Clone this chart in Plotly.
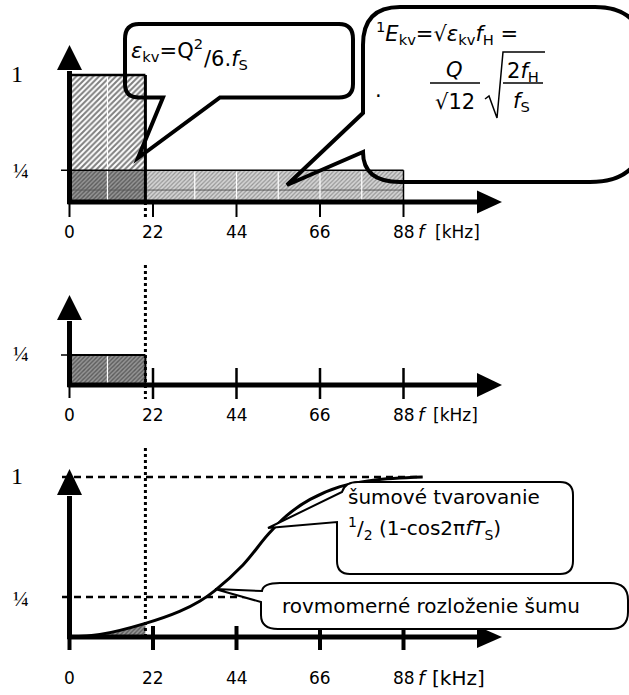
import plotly.graph_objects as go

W, H = 629, 695

# ---------------- data ----------------
freq_ticks = [0, 22, 44, 66, 88]                 # kHz
freq_tick_labels = ["0", "22", "44", "66", "88"]
audio_band_edge = 20                             # kHz – end of the audio band
uniform_band_end = 88                            # kHz – extent of uniform noise
level_full = 1.0
level_quarter = 0.25
fill_gridlines = [10, 33, 44, 55, 66, 77]        # faint white lines inside the hatched fills
fill_midline = 0.094                             # faint grey line inside the band
shaped_f = [0, 8, 20, 29, 34.4, 38.3, 45.7, 52.3, 57.3, 63.4, 71.3, 80, 93]
shaped_v = [0, 0.015, 0.085, 0.16, 0.225, 0.29, 0.45, 0.64, 0.76, 0.86, 0.94, 0.98, 1.0]

# ---------------- geometry helpers ----------------
X0, KX = 69.5, 334 / 88                          # pixel of f=0, pixels per kHz
PANEL = {1: (202, 127), 2: (385, 120), 3: (637, 160)}   # zero-line pixel, pixels per unit


def fx(px):
    return (px - X0) / KX


def vy(p, py):
    z, s = PANEL[p]
    return (z - py) / s


def refs(p):
    return ('x', 'y') if p == 1 else (f'x{p}', f'y{p}')


def P(x, y):
    return f"{x / W:.5f},{1 - y / H:.5f}"


shapes = []
annotations = []
traces = []


def seg(p, x0, y0, x1, y1, w, color='black', dash='solid'):
    xr, yr = refs(p)
    shapes.append(dict(type='line', xref=xr, yref=yr, x0=x0, y0=y0, x1=x1, y1=y1,
                       line=dict(color=color, width=w, dash=dash), layer='above'))


def tri(p, pts):
    xr, yr = refs(p)
    path = 'M ' + ' L '.join(f'{a},{b}' for a, b in pts) + ' Z'
    shapes.append(dict(type='path', xref=xr, yref=yr, path=path, fillcolor='black',
                       line=dict(width=0), layer='above'))


def ppath(cmds, width, fill=None, color='black'):
    out = []
    for c in cmds:
        op, nums = c[0], c[1:]
        pts = [P(nums[i], nums[i + 1]) for i in range(0, len(nums), 2)]
        out.append(op + ' ' + ' '.join(pts))
    path = ' '.join(out)
    d = dict(type='path', xref='paper', yref='paper', path=path,
             line=dict(color=color, width=width), layer='above')
    d['fillcolor'] = fill if fill else 'rgba(0,0,0,0)'
    shapes.append(d)


def pline(x0, y0, x1, y1, w):
    shapes.append(dict(type='line', xref='paper', yref='paper', x0=x0 / W, y0=1 - y0 / H,
                       x1=x1 / W, y1=1 - y1 / H, line=dict(color='black', width=w), layer='above'))


def txt(x, y, s, size, family='DejaVu Sans', xanchor='center', yanchor='middle', style='normal'):
    annotations.append(dict(x=x / W, y=1 - y / H, xref='paper', yref='paper', text=s,
                            showarrow=False,
                            font=dict(family=family, size=size, color='black', style=style),
                            xanchor=xanchor, yanchor=yanchor))


def tick_label(f, py, s, size=17):
    annotations.append(dict(x=f, xref='x', y=1 - py / H, yref='paper', text=s, showarrow=False,
                            font=dict(family='DejaVu Sans', size=size, color='black'),
                            xanchor='center', yanchor='middle'))


LIGHT = dict(shape='/', bgcolor='#d4d4d4', fgcolor='#555555', size=3, solidity=0.4)
DARK = dict(shape='/', bgcolor='#959595', fgcolor='#222222', size=3, solidity=0.45)
WHITE_HATCH = dict(shape='/', bgcolor='white', fgcolor='black', size=4, solidity=0.5)


def rect_trace(p, f0, f1, v0, v1, pattern):
    xa, ya = refs(p)
    traces.append(go.Scatter(x=[f0, f1, f1, f0, f0], y=[v0, v0, v1, v1, v0], xaxis=xa, yaxis=ya,
                             mode='lines', fill='toself', fillcolor=pattern['bgcolor'],
                             fillpattern=pattern, line=dict(width=0), hoverinfo='skip',
                             showlegend=False))


def axes_arrows(p, y_tip_px, y_base_px, x_base_px=477, x_tip_px=502, hh=11.5, lw=5):
    z, s = PANEL[p]
    # y axis
    seg(p, 0, vy(p, z + 2), 0, vy(p, y_base_px + 1), lw)
    tri(p, [(fx(X0 - 12.5), vy(p, y_base_px)), (0, vy(p, y_tip_px)), (fx(X0 + 12.5), vy(p, y_base_px))])
    # x axis
    seg(p, fx(X0 - 2), 0, fx(x_base_px + 1), 0, lw)
    tri(p, [(fx(x_base_px), vy(p, z - hh)), (fx(x_tip_px), 0), (fx(x_base_px), vy(p, z + hh))])


# ================= panel 1 =================
rect_trace(1, 0, uniform_band_end, 0, level_quarter, LIGHT)
rect_trace(1, 0, audio_band_edge, 0, level_quarter, DARK)
rect_trace(1, 0, audio_band_edge, level_quarter, level_full, WHITE_HATCH)
seg(1, 0, fill_midline, uniform_band_end, fill_midline, 1, '#5a5a5a')
for g in fill_gridlines:
    top = level_full if g < audio_band_edge else level_quarter
    seg(1, g, 0.01, g, top - 0.01, 1.2, 'white')
seg(1, 0, level_quarter, uniform_band_end, level_quarter, 1.5)
seg(1, uniform_band_end, 0, uniform_band_end, level_quarter, 1.5)
seg(1, 0, level_full, audio_band_edge, level_full, 2.5)
seg(1, audio_band_edge, 0, audio_band_edge, level_full, 3)
seg(1, fx(61), level_quarter, 0, level_quarter, 1.5)
for f in freq_ticks:
    seg(1, f, 0, f, vy(1, 217), 2)
seg(1, audio_band_edge, 0, audio_band_edge, vy(1, 219), 3, dash='dot')
axes_arrows(1, 45, 70)

# ================= panel 2 =================
rect_trace(2, 0, audio_band_edge, 0, level_quarter, DARK)
seg(2, 10, 0.01, 10, level_quarter - 0.01, 1.2, 'white')
seg(2, 0, level_quarter, audio_band_edge, level_quarter, 2)
seg(2, audio_band_edge, 0, audio_band_edge, level_quarter, 2)
seg(2, fx(61), level_quarter, 0, level_quarter, 1.5)
for f in freq_ticks:
    if f == 0:
        seg(2, f, vy(2, 387), f, vy(2, 398), 2)
    else:
        seg(2, f, vy(2, 368), f, vy(2, 399), 2.5)
seg(2, audio_band_edge, level_full, audio_band_edge, vy(2, 399), 3, dash='dot')
axes_arrows(2, 295, 320, hh=12)

# ================= panel 3 =================
band_f = [f for f in shaped_f if f <= audio_band_edge]
band_v = [v for f, v in zip(shaped_f, shaped_v) if f <= audio_band_edge]
traces.append(go.Scatter(x=band_f, y=band_v, xaxis='x3', yaxis='y3', mode='lines',
                         line=dict(width=0, shape='spline', smoothing=1.0), fill='tozeroy',
                         fillcolor=DARK['bgcolor'], fillpattern=DARK, hoverinfo='skip',
                         showlegend=False))
traces.append(go.Scatter(x=shaped_f, y=shaped_v, xaxis='x3', yaxis='y3', mode='lines',
                         line=dict(width=3, color='black', shape='spline', smoothing=1.0),
                         hoverinfo='skip', showlegend=False))
seg(3, fx(62), level_full, shaped_f[-1], level_full, 2.5, dash='7px,5px')
seg(3, fx(62), level_quarter, 48, level_quarter, 2.5, dash='7px,5px')
seg(3, audio_band_edge, vy(3, 448), audio_band_edge, 0, 3, dash='dot')
for f in freq_ticks:
    seg(3, f, vy(3, 626), f, vy(3, 650), 4)
axes_arrows(3, 469, 495, hh=11)

# ---------------- tick labels ----------------
for py, p in [(232, 1), (415, 2), (678, 3)]:
    for f, lab in zip(freq_ticks, freq_tick_labels):
        tick_label(f, py, lab)
txt(422, 232, 'f', 18, style='italic')
txt(433, 232, '[kHz]', 17, xanchor='left')
txt(422, 415, 'f', 18, style='italic')
txt(431, 415, '[kHz]', 17, xanchor='left')
txt(423, 678, 'f', 19, style='italic')
txt(430, 678, '[kHz]', 20, xanchor='left')

# y labels (serif)
txt(17, 74, '1', 24, family='Liberation Serif')
txt(21, 171, '¼', 21, family='Liberation Serif')
txt(21, 354, '¼', 21, family='Liberation Serif')
txt(17, 476, '1', 24, family='Liberation Serif')
txt(21, 599, '¼', 21, family='Liberation Serif')

# ---------------- callouts ----------------
# A: quantisation noise power
ppath([('M', 163, 97.5), ('L', 138, 158), ('L', 220, 97.5), ('L', 339, 97.5),
       ('Q', 353, 97.5, 353, 84), ('L', 353, 39), ('Q', 353, 24, 339, 24), ('L', 139, 24),
       ('Q', 125, 24, 125, 39), ('L', 125, 84), ('Q', 125, 97.5, 139, 97.5), ('Z',)], 4)
txt(129, 50, '<i>ε</i><sub>kv</sub>=Q<sup>2</sup>', 21, xanchor='left')
txt(202, 60, '/6.<i>f</i><sub>S</sub>', 21, xanchor='left')

# B: noise voltage
ppath([('M', 363, 113), ('L', 287, 185), ('L', 363, 152), ('Q', 363, 182, 400, 182),
       ('L', 590, 182), ('Q', 645, 182, 645, 127), ('L', 645, 60), ('Q', 645, 7, 595, 7),
       ('L', 400, 7), ('Q', 363, 7, 363, 45), ('Z',)], 4)
txt(374, 33, '<sup>1</sup><i>E</i><sub>kv</sub>=√<i>ε</i><sub>kv</sub><i>f</i><sub>H</sub> =', 21,
    xanchor='left')
txt(454, 70, 'Q', 21, style='italic')
pline(430, 83, 480, 83, 1.5)
txt(455, 102, '√12', 21)
ppath([('M', 485, 99), ('L', 489, 96), ('L', 497, 118), ('L', 503, 52), ('L', 545, 52)], 1.5)
txt(523, 72, '2<i>f</i><sub>H</sub>', 21)
pline(503, 83, 543, 83, 1.5)
txt(521, 102, '<i>f</i><sub>S</sub>', 21)
txt(378, 90, '.', 21)

# C: noise shaping
ppath([('M', 268, 528), ('L', 342, 492), ('Q', 345, 482, 358, 482), ('L', 560, 482),
       ('Q', 573, 482, 573, 495), ('L', 573, 561), ('Q', 573, 574, 560, 574), ('L', 350, 574),
       ('Q', 337, 574, 337, 561), ('L', 337, 522), ('Z',)], 2, fill='white')
txt(346, 497, 'šumové tvarovanie', 20, xanchor='left')
txt(346, 528, '<sup>1</sup>/<sub>2</sub> (1-cos2π<i>fT</i><sub>S</sub>)', 20, xanchor='left')

# D: uniform noise distribution
ppath([('M', 215, 589), ('L', 262, 591), ('Q', 263, 583, 280, 583), ('L', 610, 583),
       ('Q', 628, 583, 628, 600), ('L', 628, 612), ('Q', 628, 629, 610, 629), ('L', 278, 629),
       ('Q', 261, 629, 261, 615), ('L', 261, 602), ('Z',)], 2, fill='white')
txt(431, 606, 'rovmomerné rozloženie šumu', 20)

# ---------------- layout ----------------
fig = go.Figure(data=traces)
XR = [fx(0), fx(W)]
layout = dict(width=W, height=H, autosize=False, margin=dict(l=0, r=0, t=0, b=0, pad=0),
              paper_bgcolor='white', plot_bgcolor='rgba(0,0,0,0)', showlegend=False,
              shapes=shapes, annotations=annotations)
for p in (1, 2, 3):
    z, s = PANEL[p]
    xk = 'xaxis' if p == 1 else f'xaxis{p}'
    yk = 'yaxis' if p == 1 else f'yaxis{p}'
    xa, ya = refs(p)
    layout[xk] = dict(domain=[0, 1], range=XR, visible=False, fixedrange=True, anchor=ya)
    layout[yk] = dict(domain=[0, 1], range=[vy(p, H), vy(p, 0)], visible=False,
                      fixedrange=True, anchor=xa)
fig.update_layout(**layout)
fig.write_html("out.html", config={'displayModeBar': False},
               post_script="document.body.style.margin='0px';document.body.style.overflow='hidden';")
